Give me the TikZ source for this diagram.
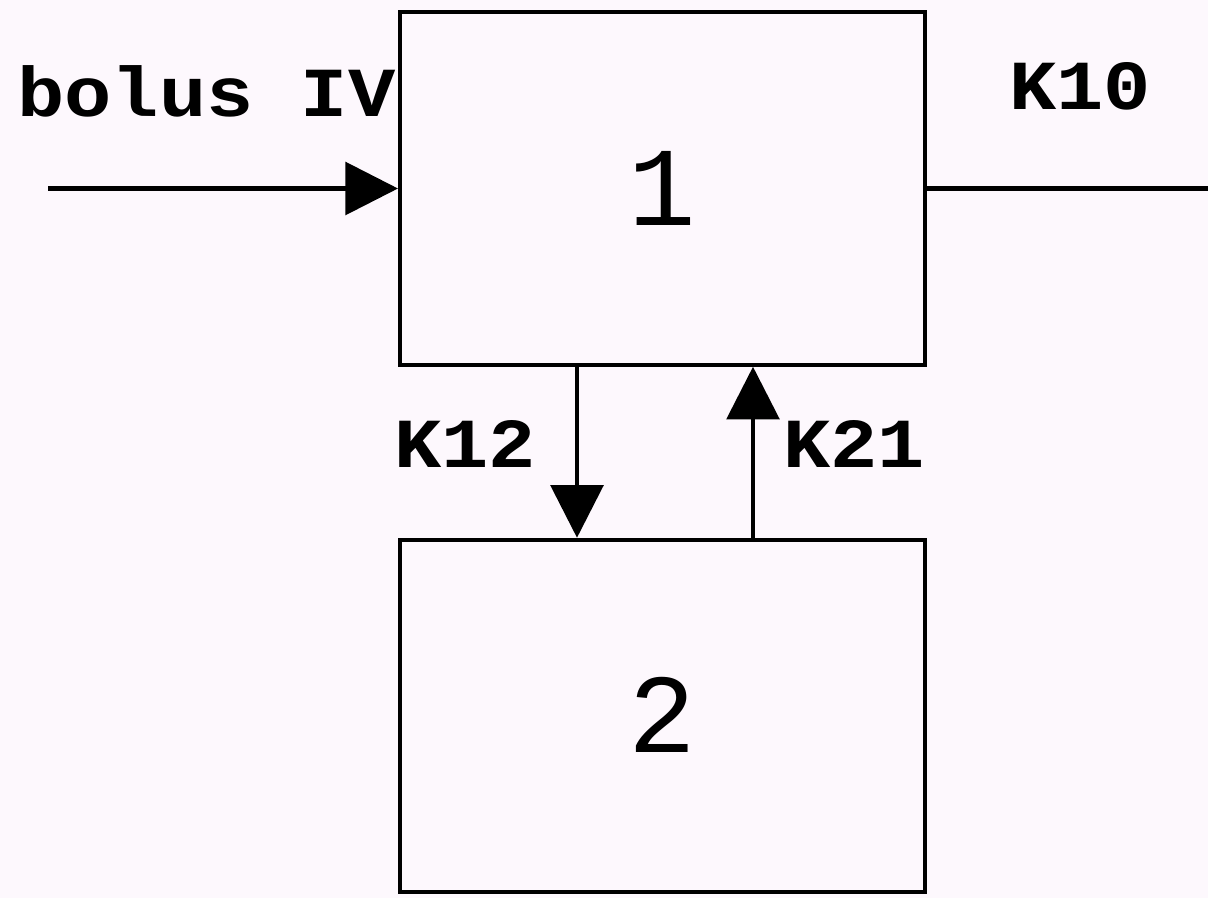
\documentclass[tikz,border=0pt]{standalone}
\usepackage{fontspec}
\usetikzlibrary{arrows.meta}
\newfontfamily\labfont{Liberation Mono}
\definecolor{bgpink}{RGB}{253,248,253}
\tikzset{
  compbox/.style={draw,line width=2.3pt,minimum width=10.5cm,minimum height=7.05cm,inner sep=0pt},
  ratelab/.style={anchor=base,font=\labfont\bfseries\fontsize{40}{40}\selectfont,xscale=1.12,inner sep=0pt},
  numlab/.style={anchor=base,font=\labfont\fontsize{64}{64}\selectfont,inner sep=0pt},
  flow/.style={line width=2.3pt,-{Triangle[length=1.05cm,width=1.05cm]}}
}
\begin{document}
\begin{tikzpicture}
\fill[bgpink] (0,0) rectangle (24.16,-17.96);
\useasboundingbox (0,0) rectangle (24.16,-17.96);
\node[compbox] (c1) at (13.25,-3.77) {};
\node[compbox] (c2) at (13.25,-14.32) {};
\node[numlab] (n1) at (13.25,-4.5) {1};
\node[numlab] (n2) at (13.25,-15.04) {2};
\coordinate (in) at (0.96,-3.77);
\coordinate (out) at (24.3,-3.77);
\draw[flow] (in) -- (c1.west);
\draw[line width=2.3pt] (c1.east) -- (out);
\draw[flow] (c1.south -| 11.54,0) -- (c2.north -| 11.54,0);
\draw[flow] (c2.north -| 15.06,0) -- (c1.south -| 15.06,0);
\node[ratelab] (bolus) at (4.13,-2.34) {bolus IV};
\node[ratelab] (k10) at (21.6,-2.2) {K10};
\node[ratelab] (k12) at (9.3,-9.34) {K12};
\node[ratelab] (k21) at (17.08,-9.34) {K21};
\end{tikzpicture}
\end{document}
